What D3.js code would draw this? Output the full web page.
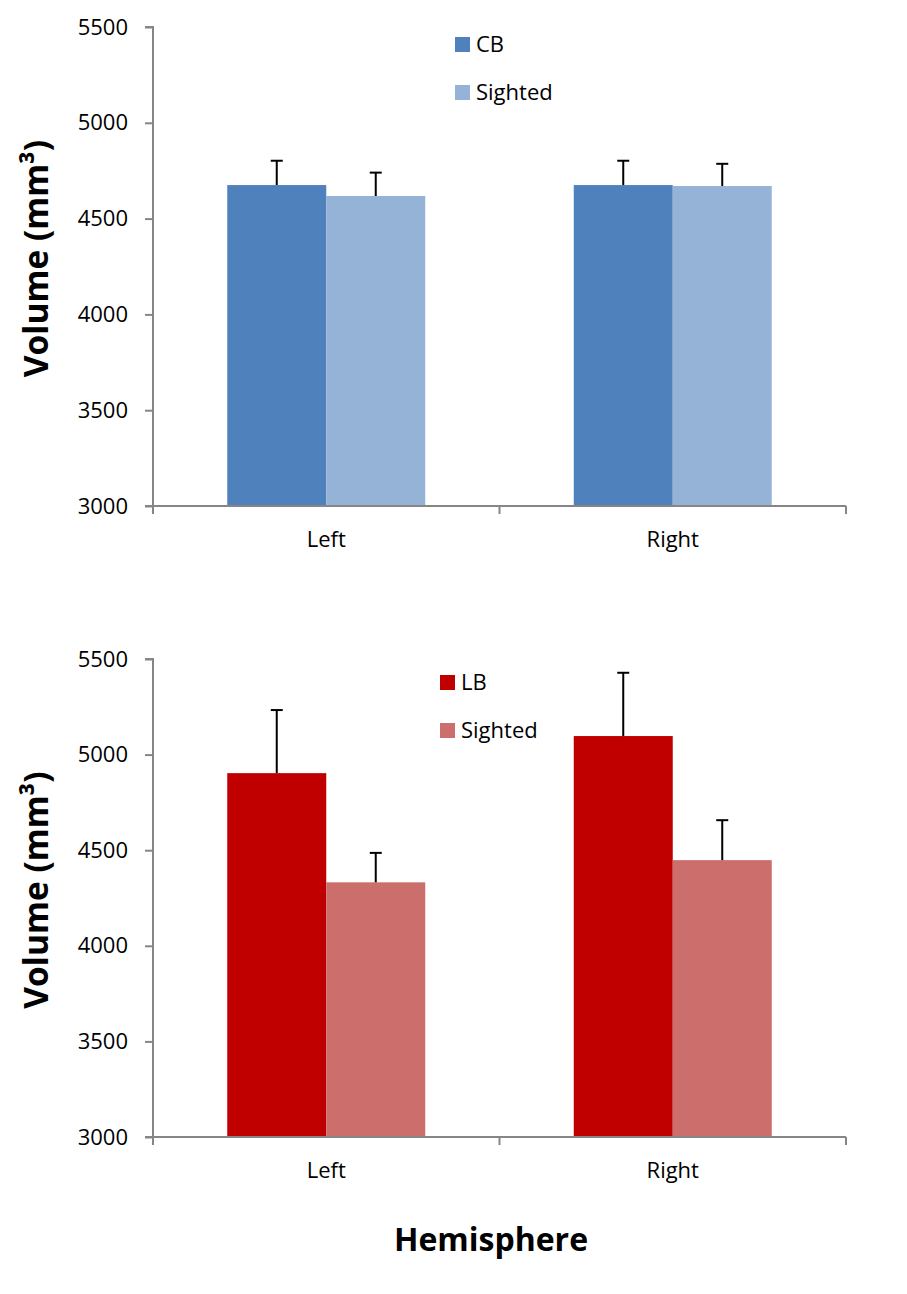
<!DOCTYPE html>
<html><head><meta charset="utf-8">
<script src="https://cdn.jsdelivr.net/npm/d3@7"></script>
<style>body{margin:0;background:#fff}svg{display:block}</style>
</head><body><svg id="c" width="907" height="1294"></svg>
<script>
const categories = ["Left", "Right"];
const yTicks = [3000, 3500, 4000, 4500, 5000, 5500];
// top panel
const topSeries = ["CB", "Sighted"];
const topValues = [[4675, 4618], [4675, 4670]];
const topErrors = [[127, 122], [127, 116]];
// bottom panel
const botSeries = ["LB", "Sighted"];
const botValues = [[4903, 4332], [5097, 4448]];
const botErrors = [[330, 154], [331, 209]];
const xTitle = "Hemisphere";
const yTitle = "Volume (mm³)";

const svg = d3.select("#c");
const FONT = "'Open Sans', sans-serif";

function panel(cfg) {
  const g = svg.append("g");
  const x = d3.scaleBand().domain(categories).range([153, 846]).padding(0);
  const xs = d3.scaleBand().domain(cfg.series).range([0, x.bandwidth()]).paddingInner(0).paddingOuter(0.75);
  const y = d3.scaleLinear().domain([3000, 5500]).range([cfg.bottom, cfg.top]);

  // bars
  categories.forEach((c, i) => {
    cfg.series.forEach((s, j) => {
      const v = cfg.values[i][j], e = cfg.errors[i][j];
      const bx = x(c) + xs(s);
      g.append("rect").attr("x", bx).attr("y", y(v)).attr("width", xs.bandwidth())
        .attr("height", y(3000) - y(v)).attr("fill", cfg.colors[j]);
      const cx = bx + xs.bandwidth() / 2;
      g.append("line").attr("x1", cx).attr("x2", cx).attr("y1", y(v)).attr("y2", y(v + e))
        .attr("stroke", "#000").attr("stroke-width", 2);
      g.append("line").attr("x1", cx - 6).attr("x2", cx + 6).attr("y1", y(v + e)).attr("y2", y(v + e))
        .attr("stroke", "#000").attr("stroke-width", 2);
    });
  });

  // y axis
  const ya = g.append("g").attr("transform", "translate(153,0)")
    .call(d3.axisLeft(y).tickValues(yTicks).tickSize(8).tickPadding(17).tickFormat(d3.format("d")));
  ya.select(".domain").attr("stroke", "#868686").attr("stroke-width", 2).attr("d", `M-8,${cfg.top}H0V${cfg.bottom}`);
  ya.selectAll(".tick line").attr("stroke", "#868686").attr("stroke-width", 2);
  ya.selectAll("text").attr("font-family", FONT).attr("font-size", 22).attr("fill", "#000");

  // x axis
  const xa = g.append("g").attr("transform", `translate(0,${cfg.bottom})`)
    .call(d3.axisBottom(x).tickSize(0).tickPadding(25));
  xa.select(".domain").attr("stroke", "#868686").attr("stroke-width", 2).attr("d", "M145,0H846");
  xa.selectAll("text").attr("font-family", FONT).attr("font-size", 22).attr("fill", "#000");
  const bounds = [x.range()[0], ...categories.map(c => x(c) + x.bandwidth())];
  g.selectAll(".xb").data(bounds).enter().append("line")
    .attr("x1", d => d).attr("x2", d => d).attr("y1", cfg.bottom).attr("y2", cfg.bottom + 8)
    .attr("stroke", "#868686").attr("stroke-width", 2);

  // y title
  g.append("text").attr("transform", `translate(48,${(cfg.top + cfg.bottom) / 2 - 8}) rotate(-90)`)
    .attr("text-anchor", "middle").attr("font-family", FONT).attr("font-weight", "bold")
    .attr("font-size", 33.5).attr("fill", "#000").text(yTitle);

  // legend
  cfg.series.forEach((s, j) => {
    const ly = cfg.legY + j * 48;
    g.append("rect").attr("x", cfg.legX).attr("y", ly).attr("width", 15).attr("height", 15).attr("fill", cfg.colors[j]);
    g.append("text").attr("x", cfg.legX + 21).attr("y", ly + 7.5).attr("dy", "0.35em")
      .attr("font-family", FONT).attr("font-size", 22).attr("fill", "#000").text(s);
  });
}

panel({series: topSeries, values: topValues, errors: topErrors, top: 27, bottom: 506,
  colors: ["#4F81BD", "#95B3D7"], legX: 455, legY: 37});
panel({series: botSeries, values: botValues, errors: botErrors, top: 659, bottom: 1137,
  colors: ["#C00000", "#CC6E6B"], legX: 440, legY: 675});

svg.append("text").attr("x", 491).attr("y", 1251).attr("text-anchor", "middle")
  .attr("font-family", FONT).attr("font-weight", "bold").attr("font-size", 32).attr("fill", "#000").text(xTitle);
</script></body></html>
